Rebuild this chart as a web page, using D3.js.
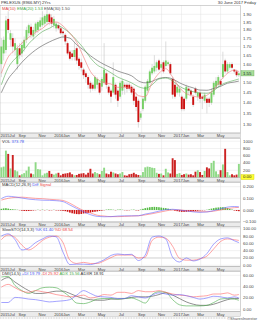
<!DOCTYPE html>
<html lang="en">
<head>
<meta charset="UTF-8">
<title>PRLEXUS weekly chart</title>
<script src="https://d3js.org/d3.v7.min.js"></script>
<style>
  body { margin: 0; background: #fff; }
  svg { display: block; }
  text { font-family: "Liberation Sans", Arial, sans-serif; }
</style>
</head>
<body>
<div id="chart"></div>
<script>
// weekly bars, one per week starting Monday 2015-06-29
const firstWeek = new Date(2015, 5, 29);

const openPx = [1.60,1.66,1.68,1.87,1.74,1.75,1.68,1.60,1.69,1.66,
  1.69,1.74,1.78,1.82,1.76,1.79,1.80,1.82,1.83,1.84,
  1.85,1.90,1.88,1.83,1.81,1.83,1.81,1.79,1.77,1.72,
  1.67,1.66,1.64,1.69,1.63,1.61,1.57,1.55,1.53,1.50,
  1.49,1.47,1.49,1.50,1.48,1.50,1.55,1.48,1.46,1.45,
  1.49,1.46,1.43,1.46,1.49,1.49,1.49,1.48,1.47,1.43,
  1.41,1.33,1.37,1.41,1.46,1.50,1.55,1.56,1.58,1.62,
  1.58,1.61,1.59,1.60,1.60,1.52,1.49,1.45,1.45,1.43,
  1.42,1.42,1.47,1.46,1.43,1.47,1.43,1.45,1.43,1.41,
  1.42,1.42,1.40,1.44,1.48,1.49,1.51,1.53,1.62,1.56,
  1.58,1.60,1.57,1.56,1.54];
const highPx = [1.75,1.76,1.89,1.92,1.80,1.78,1.75,1.71,1.72,1.73,
  1.76,1.82,1.84,1.84,1.82,1.85,1.86,1.88,1.92,1.90,
  1.93,1.91,1.90,1.89,1.85,1.84,1.82,1.80,1.78,1.73,
  1.68,1.68,1.72,1.70,1.64,1.63,1.58,1.56,1.54,1.51,
  1.50,1.54,1.53,1.51,1.53,1.72,1.56,1.49,1.47,1.61,
  1.50,1.47,1.51,1.52,1.50,1.50,1.50,1.49,1.48,1.45,
  1.42,1.36,1.43,1.49,1.52,1.57,1.60,1.65,1.62,1.63,
  1.61,1.62,1.73,1.62,1.61,1.53,1.50,1.49,1.48,1.44,
  1.43,1.49,1.48,1.47,1.44,1.48,1.46,1.46,1.44,1.45,
  1.43,1.43,1.47,1.51,1.53,1.54,1.52,1.67,1.63,1.61,
  1.61,1.61,1.57,1.57,1.56];
const lowPx = [1.53,1.62,1.66,1.78,1.70,1.66,1.65,1.57,1.63,1.64,
  1.67,1.72,1.76,1.75,1.74,1.77,1.78,1.80,1.82,1.82,
  1.83,1.83,1.82,1.81,1.79,1.80,1.77,1.76,1.71,1.65,
  1.62,1.62,1.62,1.60,1.57,1.56,1.52,1.50,1.47,1.45,
  1.46,1.46,1.47,1.44,1.46,1.49,1.47,1.44,1.40,1.44,
  1.42,1.38,1.42,1.44,1.44,1.45,1.46,1.44,1.39,1.36,
  1.285,1.32,1.36,1.40,1.45,1.49,1.54,1.55,1.56,1.56,
  1.57,1.55,1.58,1.59,1.54,1.42,1.42,1.44,1.43,1.36,
  1.36,1.41,1.44,1.43,1.38,1.44,1.41,1.40,1.37,1.40,
  1.35,1.38,1.39,1.43,1.47,1.48,1.48,1.52,1.55,1.55,
  1.57,1.57,1.55,1.53,1.53];
const closePx = [1.70,1.74,1.86,1.80,1.78,1.70,1.72,1.69,1.65,1.71,
  1.74,1.80,1.83,1.77,1.80,1.84,1.85,1.86,1.88,1.89,
  1.90,1.85,1.84,1.87,1.84,1.81,1.78,1.78,1.73,1.66,
  1.63,1.64,1.68,1.62,1.59,1.58,1.54,1.53,1.49,1.47,
  1.47,1.53,1.52,1.45,1.52,1.57,1.49,1.45,1.43,1.53,
  1.44,1.41,1.50,1.51,1.48,1.47,1.47,1.45,1.41,1.38,
  1.31,1.35,1.42,1.48,1.51,1.56,1.58,1.59,1.61,1.57,
  1.60,1.56,1.62,1.61,1.55,1.44,1.43,1.48,1.47,1.37,
  1.37,1.48,1.46,1.44,1.39,1.45,1.45,1.42,1.42,1.44,
  1.40,1.40,1.45,1.50,1.51,1.53,1.49,1.60,1.56,1.60,
  1.60,1.58,1.56,1.54,1.55];
const volume = [280,300,740,650,250,620,200,170,60,90,
  120,190,300,110,90,420,230,220,60,110,
  130,180,100,80,110,130,60,100,110,120,
  140,90,60,70,100,110,120,80,130,240,
  110,150,120,90,180,270,110,90,160,140,
  110,90,110,150,60,50,90,100,130,90,
  70,60,150,280,300,290,270,260,130,100,
  110,60,240,140,110,530,480,100,120,70,
  90,110,80,90,60,160,200,150,70,180,
  280,250,400,460,170,90,200,360,790,150,
  60,90,60,80,374];
const macdHist = [0.010,0.014,0.016,0.012,0.008,0.006,0.004,0.002,-0.002,
  -0.006,-0.008,-0.009,-0.008,-0.006,-0.004,
  -0.002,0.002,-0.002,0.003,-0.002,0.002,-0.003,-0.002,0.002,-0.003,-0.004,-0.005,-0.007,-0.010,
  -0.015,-0.022,-0.028,-0.032,-0.035,-0.036,-0.034,-0.030,-0.028,-0.025,-0.022,-0.018,-0.015,-0.012,-0.008,-0.005,
  -0.002,0.003,0.005,0.004,0.002,-0.002,0.003,0.004,0.002,-0.002,-0.003,-0.002,0.002,0.003,-0.003,-0.004,
  0.004,0.010,0.016,0.020,0.024,0.026,0.027,0.026,0.024,0.021,0.018,0.016,0.012,0.006,0.002,
  -0.006,-0.010,-0.014,-0.016,-0.016,-0.015,-0.013,-0.012,-0.010,-0.008,-0.006,-0.004,-0.003,-0.002,0.002,
  0.006,0.012,0.016,0.020,0.022,0.024,0.024,0.022,0.018,
  0.010,0.004,-0.004,-0.008,-0.010];

// indicator lines, read every 3rd week
const sampleWeeks = [0,3,6,9,12,15,18,21,24,27,30,33,36,39,42,45,48,51,54,57,60,63,66,69,72,75,78,81,84,87,90,93,96,99,102,104];
const ma10 = [1.55,1.64,1.68,1.72,1.755,1.785,1.81,1.843,1.85,1.825,1.78,1.725,1.64,1.56,1.52,1.50,1.494,1.477,1.477,1.47,
  1.435,1.43,1.50,1.55,1.575,1.53,1.475,1.445,1.433,1.427,1.437,1.465,1.512,1.55,1.567,1.56];
const ema20 = [1.49,1.58,1.63,1.665,1.717,1.757,1.79,1.81,1.83,1.812,1.78,1.737,1.69,1.635,1.595,1.575,1.553,1.53,1.515,1.50,
  1.48,1.472,1.49,1.52,1.525,1.51,1.482,1.465,1.455,1.448,1.447,1.46,1.488,1.503,1.513,1.52];
const ema30 = [1.45,1.52,1.565,1.61,1.648,1.68,1.706,1.727,1.745,1.757,1.75,1.71,1.68,1.647,1.62,1.598,1.58,1.562,1.55,1.537,
  1.51,1.50,1.508,1.523,1.528,1.52,1.50,1.485,1.474,1.463,1.462,1.471,1.482,1.498,1.504,1.509];
const macdDiff = [0.098,0.118,0.112,0.103,0.093,0.088,0.084,0.083,0.080,0.072,0.043,0.013,-0.015,-0.040,-0.055,-0.058,-0.057,-0.052,
  -0.050,-0.050,-0.049,-0.035,-0.024,-0.010,0.003,0.006,0.000,-0.008,-0.016,-0.020,-0.017,-0.005,0.010,0.025,0.030,0.028];
const macdSignal = [0.085,0.100,0.108,0.110,0.105,0.100,0.097,0.092,0.088,0.082,0.058,0.025,-0.005,-0.025,-0.045,-0.052,-0.057,-0.057,
  -0.055,-0.052,-0.050,-0.042,-0.032,-0.020,-0.008,0.000,0.000,-0.006,-0.012,-0.015,-0.015,-0.010,0.000,0.012,0.020,0.022];
const stochK = [80,86,70,42,47,62,72,80,78,36,2,3,3,2,7,15,27,31,29,30,13,28,77,80,72,22,9,20,12,17,32,58,72,75,67,62];
const stochD = [70,83,76,55,42,52,68,77,80,62,14,5,8,5,5,12,21,28,28,28,20,22,68,77,74,52,19,14,14,18,25,45,65,72,70,68];
const plusDI = [12,12,21,20,18,17,15,13,14,15,17,25,33,28,23,22,21,19,19,24,22,20,25,29,27,25,26,24,21,18,20,23,22,20,22,20];
const minusDI = [39,44,38,32,30,33,31,29,26,24,22,23,25,20,22,26,25,30,30,28,33,31,31,33,30,27,25,24,22,23,24,27,27,29,25,26];
const adx = [57,58,42,33,28,33,38,39,38,31,22,11,10,13,18,19,19,18,19,20,16,11,26,31,30,17,8,6,6,6,7,12,18,19,18,16];
const adxr = [51,56,48,40,33,28,28,30,32,32,28,23,19,17,16,16,18,18,19,21,22,22,23,26,29,25,19,13,9,7,7,9,13,17,19,19];

const monthTicks = ["2015-07-01","2015-09-01","2015-11-01","2016-01-01","2016-03-01","2016-05-01",
  "2016-07-01","2016-09-01","2016-11-01","2017-01-01","2017-03-01","2017-05-01"];
const monthLabels = ["2015Jul","Sep","Nov","2016Jan","Mar","May","Jul","Sep","Nov","2017Jan","Mar","May"];
const priceTicks = [1.30,1.35,1.40,1.45,1.50,1.55,1.60,1.65,1.70,1.75,1.80,1.85,1.90];
const volTicks = [200,400,600,800,1000];
const macdTicks = [-0.1,0,0.1,0.2];
const stochTicks = [0,20,40,60,80,100];
const dmiTicks = [0,20,40,60];

const W = 258, H = 320, plotR = 240.5;
const UP = "#77d066", DOWN = "#cc1111";
const parse = d3.timeParse("%Y-%m-%d");
const weekDate = i => d3.timeDay.offset(firstWeek, 7 * i);

const x = d3.scaleTime().domain([parse("2015-07-01"), parse("2017-07-01")]).range([2, plotR]);

const svg = d3.select("#chart").append("svg").attr("width", W).attr("height", H);

const panels = {
  price: { top: 5.5, bottom: 133, y: d3.scaleLog().domain([1.3, 1.9]).range([124.3, 14.3]), ticks: priceTicks, fmt: d3.format(".2f") },
  vol: { top: 138.5, bottom: 177.5, y: d3.scaleLinear().domain([0, 1000]).range([177.5, 141.2]), ticks: volTicks, fmt: d3.format("d") },
  macd: { top: 182, bottom: 222, y: d3.scaleLinear().domain([0, 0.2]).range([210, 186.7]), ticks: macdTicks, fmt: d3.format(".3f") },
  stoch: { top: 227, bottom: 266.5, y: d3.scaleLinear().domain([0, 100]).range([265.3, 228.7]), ticks: stochTicks, fmt: d3.format(".2f") },
  dmi: { top: 271, bottom: 311.5, y: d3.scaleLinear().domain([0, 60]).range([309.3, 275.3]), ticks: dmiTicks, fmt: d3.format(".2f") }
};

// title row
svg.append("text").attr("x", 1).attr("y", 4.3).attr("font-size", 4.2).attr("fill", "#333")
  .text("PRLEXUS (8966.MY)");
svg.append("text").attr("x", 42).attr("y", 4.3).attr("font-size", 4.2).attr("fill", "#333").text("2Yrs");
svg.append("text").attr("x", 256).attr("y", 4.3).attr("font-size", 4.2).attr("fill", "#333")
  .attr("text-anchor", "end").text("30 June 2017 Friday");

Object.entries(panels).forEach(([key, p]) => {
  const g = svg.append("g");
  g.append("clipPath").attr("id", "clip-" + key).append("rect")
    .attr("x", 0).attr("y", p.top).attr("width", plotR).attr("height", p.bottom - p.top);
  p.clip = "url(#clip-" + key + ")";

  // grid
  g.selectAll(".hg").data(p.ticks).join("line")
    .attr("x1", 0).attr("x2", plotR)
    .attr("y1", d => p.y(d)).attr("y2", d => p.y(d))
    .attr("stroke", d => (key === "stoch" && (d === 20 || d === 80)) ? "#a0a0a0" : "#e2e2e2")
    .attr("stroke-width", 0.5);
  g.selectAll(".vg").data(monthTicks.slice(1)).join("line")
    .attr("x1", d => x(parse(d))).attr("x2", d => x(parse(d)))
    .attr("y1", p.top).attr("y2", p.bottom)
    .attr("stroke", "#e2e2e2").attr("stroke-width", 0.5);

  // right labels
  g.selectAll(".yl").data(p.ticks).join("text")
    .attr("x", 243).attr("y", d => p.y(d) + 1.5)
    .attr("font-size", 4.3).attr("fill", "#444")
    .text(d => p.fmt(d));

  // x axis strip
  g.append("rect").attr("x", 0).attr("y", p.bottom).attr("width", plotR).attr("height", 4.8)
    .attr("fill", "#ebebeb").attr("stroke", "#b0b0b0").attr("stroke-width", 0.4);
  g.selectAll(".xl").data(monthTicks).join("text")
    .attr("x", (d, i) => i === 0 ? 0.5 : x(parse(d)))
    .attr("y", p.bottom + 4)
    .attr("text-anchor", (d, i) => i === 0 ? "start" : "middle")
    .attr("font-size", 4.1).attr("fill", "#444")
    .text((d, i) => monthLabels[i]);

  g.append("rect").attr("x", 0).attr("y", p.top).attr("width", plotR).attr("height", p.bottom - p.top)
    .attr("fill", "none").attr("stroke", "#a8a8a8").attr("stroke-width", 0.5);
});

function legend(p, items) {
  const t = svg.append("text").attr("x", 2).attr("y", p.top + 4.3).attr("font-size", 4.2);
  items.forEach(([s, c]) => t.append("tspan").attr("fill", c).text(s + "  "));
}

function drawLine(p, vals, color) {
  svg.append("path")
    .datum(sampleWeeks.map((w, i) => [x(weekDate(w)), p.y(vals[i])]))
    .attr("clip-path", p.clip)
    .attr("fill", "none").attr("stroke", color).attr("stroke-width", 0.6)
    .attr("d", d3.line().curve(d3.curveMonotoneX));
}

// price panel
const P = panels.price;
const weeks = d3.range(closePx.length);
const cg = svg.append("g").attr("clip-path", P.clip);
drawLine(P, ema30, "#555555");
drawLine(P, ema20, "#55aa55");
drawLine(P, ma10, "#ee7777");
cg.selectAll(".wick").data(weeks).join("line")
  .attr("x1", i => x(weekDate(i))).attr("x2", i => x(weekDate(i)))
  .attr("y1", i => P.y(highPx[i])).attr("y2", i => P.y(lowPx[i]))
  .attr("stroke", "#c4c4c4").attr("stroke-width", 0.6);
cg.selectAll(".body").data(weeks).join("rect")
  .attr("x", i => x(weekDate(i)) - 0.95).attr("width", 1.9)
  .attr("y", i => P.y(Math.max(openPx[i], closePx[i])))
  .attr("height", i => Math.max(0.7, P.y(Math.min(openPx[i], closePx[i])) - P.y(Math.max(openPx[i], closePx[i]))))
  .attr("fill", i => closePx[i] >= openPx[i] ? UP : DOWN);
legend(P, [["MA(10)", "#dd4444"], ["EMA(20) 1.53", "#44aa44"], ["EMA(30) 1.50", "#555"]]);
svg.append("rect").attr("x", 241).attr("y", P.y(1.55) - 2.6).attr("width", 13).attr("height", 5.2)
  .attr("fill", "#a8dd99").attr("stroke", "#66aa55").attr("stroke-width", 0.4);
svg.append("text").attr("x", 243).attr("y", P.y(1.55) + 1.5).attr("font-size", 4.3).attr("fill", "#222").text("1.55");

// volume
const V = panels.vol;
svg.append("g").attr("clip-path", V.clip).selectAll("rect").data(weeks).join("rect")
  .attr("x", i => x(weekDate(i)) - 0.95).attr("width", 1.9)
  .attr("y", i => V.y(volume[i])).attr("height", i => V.y(0) - V.y(volume[i]))
  .attr("fill", i => closePx[i] >= openPx[i] ? "#8fd986" : "#cc2222");
legend(V, [["VOL", "#333"], ["373.78", "#4455ee"]]);
svg.append("rect").attr("x", 241).attr("y", 174.6).attr("width", 13).attr("height", 5)
  .attr("fill", "#ffff33").attr("stroke", "#cccc00").attr("stroke-width", 0.4);
svg.append("text").attr("x", 243).attr("y", 178.3).attr("font-size", 4.3).attr("fill", "#222").text("0.00");

// MACD
const M = panels.macd;
svg.append("g").attr("clip-path", M.clip).selectAll("rect").data(weeks).join("rect")
  .attr("x", i => x(weekDate(i)) - 0.8).attr("width", 1.6)
  .attr("y", i => Math.min(M.y(0), M.y(macdHist[i])))
  .attr("height", i => Math.abs(M.y(macdHist[i]) - M.y(0)))
  .attr("fill", i => macdHist[i] >= 0 ? "#55bb44" : "#cc1111");
drawLine(M, macdSignal, "#ff6666");
drawLine(M, macdDiff, "#6666ff");
legend(M, [["MACD(12,26,9)", "#333"], ["Diff", "#4455ee"], ["Signal", "#ee4444"]]);

// Slow stochastic
const S = panels.stoch;
drawLine(S, stochD, "#ff6666");
drawLine(S, stochK, "#6666ff");
legend(S, [["SlowSTO(14,3,3)", "#333"], ["%K 61.40", "#4455ee"], ["%D 68.54", "#ee4444"]]);

// DMI
const D = panels.dmi;
drawLine(D, adxr, "#444444");
drawLine(D, adx, "#44aa44");
drawLine(D, minusDI, "#ff6666");
drawLine(D, plusDI, "#6666ff");
legend(D, [["DMI(14,5)", "#333"], ["+DI 19.79", "#4455ee"], ["-DI 25.92", "#ee4444"], ["ADX 15.56", "#44aa44"], ["ADXR 18.91", "#333"]]);

// footer
svg.append("line").attr("x1", 0).attr("x2", 226).attr("y1", 318).attr("y2", 318)
  .attr("stroke", "#bbb").attr("stroke-width", 1.2).attr("stroke-dasharray", "0.8,0.8");
svg.append("text").attr("x", 257).attr("y", 319.6).attr("text-anchor", "end")
  .attr("font-size", 4).attr("fill", "#555").text("©SharesInvestor");
</script>
</body>
</html>
